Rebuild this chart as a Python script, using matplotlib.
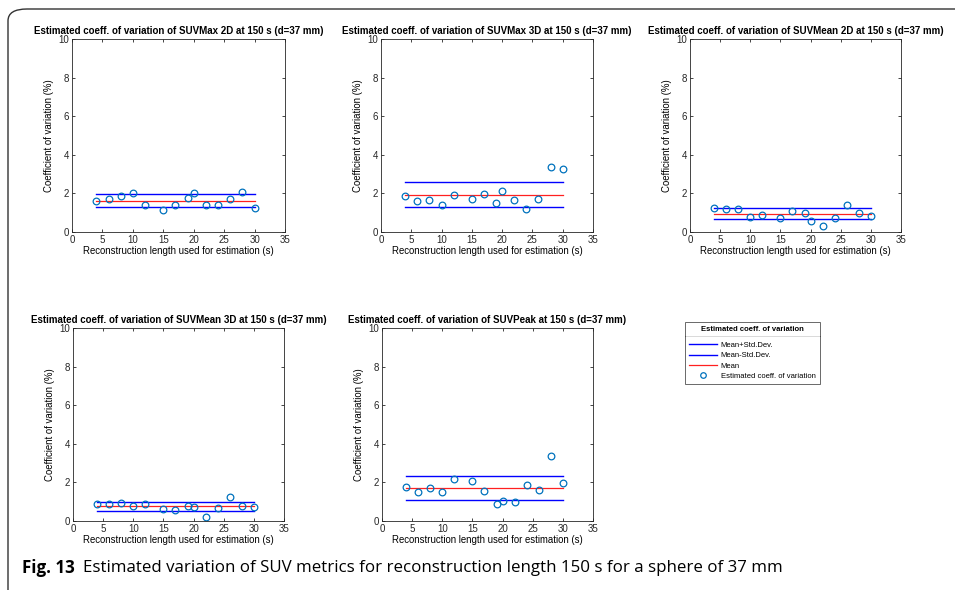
import numpy as np
import matplotlib
matplotlib.use("Agg")
from matplotlib import pyplot as plt
from matplotlib.patches import FancyBboxPatch
from matplotlib.lines import Line2D

# reconstruction lengths (s)
lengths = [4, 6, 8, 10, 12, 15, 17, 19, 20, 22, 24, 26, 28, 30]

# estimated coeff. of variation (%) per metric
cv_max2d = [1.62, 1.70, 1.87, 2.03, 1.42, 1.15, 1.40, 1.78, 2.00, 1.42, 1.42, 1.72, 2.07, 1.22]
cv_max3d = [1.87, 1.63, 1.67, 1.42, 1.90, 1.72, 1.97, 1.52, 2.13, 1.67, 1.18, 1.72, 3.35, 3.25]
cv_mean2d = [1.22, 1.20, 1.20, 0.80, 0.88, 0.70, 1.08, 0.98, 0.58, 0.32, 0.75, 1.40, 0.98, 0.85]
cv_mean3d = [0.88, 0.88, 0.93, 0.80, 0.90, 0.60, 0.55, 0.80, 0.70, 0.20, 0.68, 1.22, 0.78, 0.73]
cv_peak = [1.75, 1.50, 1.70, 1.50, 2.17, 2.07, 1.53, 0.90, 1.02, 0.98, 1.87, 1.60, 3.35, 1.97]

# mean, mean-std, mean+std lines
means = [1.63, 1.93, 0.93, 0.76, 1.72]
lower = [1.32, 1.30, 0.66, 0.52, 1.10]
upper = [1.95, 2.58, 1.22, 1.00, 2.35]

metrics = ["SUVMax 2D", "SUVMax 3D", "SUVMean 2D", "SUVMean 3D", "SUVPeak"]
series = [cv_max2d, cv_max3d, cv_mean2d, cv_mean3d, cv_peak]

plt.rcParams['font.family'] = ['Liberation Sans', 'DejaVu Sans']

W, H = 955, 590
fig = plt.figure(figsize=(W / 100, H / 100), dpi=100)

# axes boxes in pixels: left, top, right, bottom
boxes = [(72, 39, 285, 232), (381, 39, 593, 232), (690, 39, 901, 232),
         (73, 328, 284, 521), (382, 328, 593, 521)]

mcol = '#0072BD'
for i, (name, vals) in enumerate(zip(metrics, series)):
    l, t, r, b = boxes[i]
    ax = fig.add_axes([l / W, (H - b) / H, (r - l) / W, (b - t) / H])
    x0, x1 = lengths[0], lengths[-1]
    ax.plot([x0, x1], [upper[i], upper[i]], color='blue', lw=1)
    ax.plot([x0, x1], [lower[i], lower[i]], color='blue', lw=1)
    ax.plot([x0, x1], [means[i], means[i]], color='#ff2020', lw=0.9)
    ax.plot(lengths, vals, 'o', mfc='none', mec=mcol, ms=4.8, mew=0.9)
    ax.set_xlim(0, 35)
    ax.set_ylim(0, 10)
    ax.set_xticks(np.arange(0, 36, 5))
    ax.set_yticks(np.arange(0, 11, 2))
    ax.tick_params(direction='in', length=2.5, width=0.6, labelsize=7,
                   top=True, right=True, pad=2, colors='#262626')
    for s in ax.spines.values():
        s.set_linewidth(0.6)
        s.set_color('#262626')
    ax.set_title("Estimated coeff. of variation of %s at 150 s (d=37 mm)" % name,
                 fontsize=7.0, fontweight='bold', pad=3.5)
    ax.set_xlabel("Reconstruction length used for estimation (s)", fontsize=6.9, labelpad=1)
    ax.set_ylabel("Coefficient of variation (%)", fontsize=6.9, labelpad=3)

# legend
handles = [Line2D([], [], color='blue', lw=1), Line2D([], [], color='blue', lw=1),
           Line2D([], [], color='#ff2020', lw=0.9),
           Line2D([], [], ls='none', marker='o', mfc='none', mec=mcol, ms=4, mew=0.9)]
labels = ["Mean+Std.Dev.", "Mean-Std.Dev.", "Mean", "Estimated coeff. of variation"]
leg = fig.legend(handles, labels, title="Estimated coeff. of variation",
                 loc='upper left', bbox_to_anchor=(685 / W, 1 - 322 / H),
                 fontsize=5.5, title_fontproperties={'size': 5.5, 'weight': 'bold'},
                 frameon=True, fancybox=False, edgecolor='#262626',
                 handlelength=3.6, handletextpad=0.5, labelspacing=0.4,
                 borderpad=0.55, borderaxespad=0)
leg.get_frame().set_linewidth(0.6)
leg._legend_box.sep = 6
fig.canvas.draw()
inv = fig.transFigure.inverted()
bb = leg.get_window_extent().transformed(inv)
tb = leg.get_title().get_window_extent().transformed(inv)
sep_y = tb.y0 - 2.5 / H
fig.add_artist(Line2D([bb.x0, bb.x1], [sep_y, sep_y], color='#262626', lw=0.6))

# outer rounded frame
frame = FancyBboxPatch((8 / W, -0.02), 1.1, 1 - 9 / H + 0.02,
                       boxstyle="round,pad=0,rounding_size=0.02",
                       transform=fig.transFigure, fill=False, ec='#333333', lw=1.0)
fig.add_artist(frame)

# caption
fig.text(22 / W, 1 - 568 / H, "Fig. 13", fontsize=12.2, fontweight='bold',
         family=['Open Sans', 'DejaVu Sans'], va='center')
fig.text(83 / W, 1 - 568 / H,
         "Estimated variation of SUV metrics for reconstruction length 150 s for a sphere of 37 mm",
         fontsize=12.2, family=['Open Sans', 'DejaVu Sans'], va='center')

fig.savefig("out.png", dpi=100)
